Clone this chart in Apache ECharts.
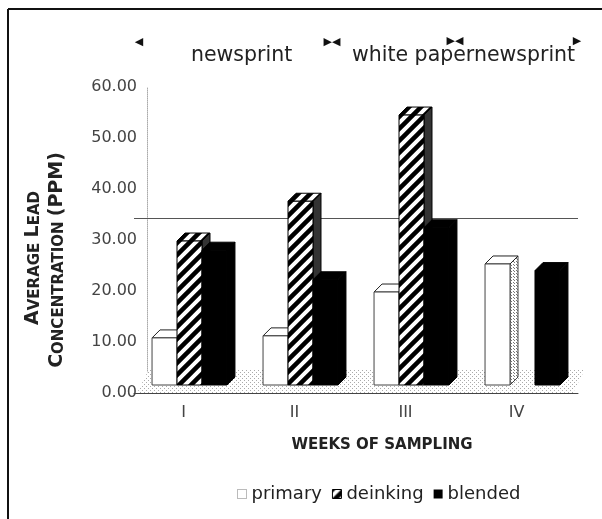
<!DOCTYPE html>
<html>
<head>
<meta charset="utf-8">
<script src="https://cdn.jsdelivr.net/npm/echarts@6/dist/echarts.min.js"></script>
<style>
html,body{margin:0;padding:0;background:#fff;}
#chart{width:602px;height:519px;}
</style>
</head>
<body>
<div id="chart"></div>
<script>
// ---- data ----
const categories = ['I', 'II', 'III', 'IV'];
const primary  = [10.8, 11.2, 19.8, 25.3];
const deinking = [29.8, 37.6, 54.5, null];
const blended  = [28.0, 22.2, 32.4, 24.0];
const seriesNames = ['primary', 'deinking', 'blended'];
const yMin = 0, yMax = 60, yInterval = 10;
const limitValue = 34.3;
const topLabels = ['newsprint', 'white paper', 'newsprint'];
const xTitle = 'WEEKS OF SAMPLING';

// ---- styling helpers ----
const FONT = '"DejaVu Sans", sans-serif';

function stripePattern() {
  const s = 12;
  const c = document.createElement('canvas');
  c.width = s; c.height = s;
  const g = c.getContext('2d');
  g.fillStyle = '#fff'; g.fillRect(0, 0, s, s);
  g.strokeStyle = '#000'; g.lineWidth = 4.5;
  g.beginPath();
  g.moveTo(-3, s + 3); g.lineTo(s + 3, -3);
  g.moveTo(-3, 3); g.lineTo(3, -3);
  g.moveTo(s - 3, s + 3); g.lineTo(s + 3, s - 3);
  g.stroke();
  return { image: c, repeat: 'repeat' };
}
function dotPattern(bg, dot, n) {
  const c = document.createElement('canvas');
  c.width = n; c.height = n;
  const g = c.getContext('2d');
  g.fillStyle = bg; g.fillRect(0, 0, n, n);
  g.fillStyle = dot;
  g.fillRect(0, 0, 1, 1);
  g.fillRect(Math.floor(n / 2), Math.floor(n / 2), 1, 1);
  return { image: c, repeat: 'repeat' };
}
const STRIPES = stripePattern();
const SIDE_DOTS = dotPattern('#fff', '#777', 3);
const FLOOR_DOTS = dotPattern('#fff', '#aaa', 4);

const styles = [
  { front: '#fff', top: '#fff', side: SIDE_DOTS, stroke: '#444', topStroke: '#222' },
  { front: STRIPES, top: STRIPES, side: '#333', stroke: '#000', topStroke: '#000' },
  { front: '#000', top: '#000', side: '#000', stroke: '#000', topStroke: '#000' }
];

const BAR_FRAC = 0.225;
const DX = 8, DY = 8, LIFT = 8;

function makeRender(idx) {
  return function (params, api) {
    const v = api.value(1);
    if (v === null || v === undefined || isNaN(v)) return;
    const cat = api.value(0);
    const top = api.coord([cat, v]);
    const base = api.coord([cat, 0]);
    const band = api.size([1, 0])[0];
    const w = band * BAR_FRAC;
    const x0 = top[0] + (idx - 1.5) * w;
    const yT = top[1];
    const yB = base[1] - LIFT;
    const st = styles[idx];
    return {
      type: 'group',
      children: [
        { type: 'polygon', shape: { points: [[x0 + w, yT], [x0 + w + DX, yT - DY], [x0 + w + DX, yB - DY], [x0 + w, yB]] },
          style: { fill: st.side, stroke: st.stroke, lineWidth: 1 } },
        { type: 'polygon', shape: { points: [[x0, yT], [x0 + DX, yT - DY], [x0 + w + DX, yT - DY], [x0 + w, yT]] },
          style: { fill: st.top, stroke: st.topStroke, lineWidth: 1 } },
        { type: 'rect', shape: { x: x0, y: yT, width: w, height: yB - yT },
          style: { fill: st.front, stroke: st.stroke, lineWidth: 1 } }
      ]
    };
  };
}

function floorRender(params, api) {
  const cs = params.coordSys;
  const yF = cs.y + cs.height;
  const xL = cs.x + 3, xR = cs.x + cs.width - 5;
  return {
    type: 'polygon',
    shape: { points: [[xL, yF], [xR, yF], [xR + 12, yF - 24], [xL + 12, yF - 24]] },
    style: { fill: FLOOR_DOTS, stroke: null }
  };
}

const dataSets = [primary, deinking, blended];
const barSeries = dataSets.map((arr, i) => ({
  name: seriesNames[i],
  type: 'custom',
  z: 3,
  renderItem: makeRender(i),
  itemStyle: { color: i === 0 ? '#fff' : (i === 1 ? STRIPES : '#000') },
  encode: { x: 0, y: 1 },
  data: arr.map((v, k) => [k, v])
}));

const legendData = [
  { name: 'primary', itemStyle: { color: '#fff', borderColor: '#777', borderWidth: 1, borderType: 'dotted' } },
  { name: 'deinking', itemStyle: { color: STRIPES, borderColor: '#000', borderWidth: 1 } },
  { name: 'blended', itemStyle: { color: '#000' } }
];

const tri = (x, y, t) => ({ type: 'text', x: x, y: y,
  style: { text: t, font: '11px ' + FONT, fill: '#111', align: 'center', verticalAlign: 'middle' } });

const chart = echarts.init(document.getElementById('chart'), null, { renderer: 'canvas' });
chart.setOption({
  animation: false,
  backgroundColor: '#fff',
  grid: { left: 134, right: 24, top: 87, bottom: 126 },
  xAxis: {
    type: 'category',
    data: categories,
    axisLine: { lineStyle: { color: '#444', width: 1 } },
    axisTick: { show: false },
    axisLabel: { color: '#444', fontSize: 16, fontFamily: FONT, margin: 12, padding: [0, 12, 0, 0] },
    name: xTitle,
    nameLocation: 'middle',
    nameGap: 45,
    nameTextStyle: { color: '#222', fontSize: 15, fontWeight: 'bold', fontFamily: FONT, padding: [0, 0, 0, 52] }
  },
  yAxis: {
    type: 'value',
    min: yMin, max: yMax, interval: yInterval,
    offset: -13,
    axisLine: { show: true, lineStyle: { color: '#aaa', type: 'dotted', width: 1 } },
    axisTick: { show: false },
    splitLine: { show: false },
    axisLabel: { color: '#444', fontSize: 16, fontFamily: FONT, margin: 10, formatter: v => v.toFixed(2) }
  },
  legend: {
    data: legendData,
    left: 232, top: 480,
    itemWidth: 9, itemHeight: 9, itemGap: 10,
    icon: 'rect',
    selectedMode: false,
    textStyle: { color: '#222', fontSize: 18, fontFamily: FONT }
  },
  series: [
    {
      name: 'floor', type: 'custom', z: 1, silent: true,
      renderItem: floorRender, data: [[0, 0]],
      markLine: {
        silent: true, z: 2, symbol: 'none',
        label: { show: false },
        lineStyle: { color: '#555', type: 'solid', width: 1 },
        data: [{ yAxis: limitValue }]
      }
    }
  ].concat(barSeries),
  graphic: [
    { type: 'line', shape: { x1: 8, y1: 9, x2: 602, y2: 9 }, style: { stroke: '#111', lineWidth: 2 } },
    { type: 'line', shape: { x1: 8, y1: 9, x2: 8, y2: 519 }, style: { stroke: '#111', lineWidth: 2 } },
    tri(139, 42, '◀'),
    tri(332, 42, '▶◀'),
    tri(455, 41, '▶◀'),
    tri(577, 41, '▶'),
    { type: 'text', x: 191, y: 56, style: { text: topLabels[0], font: '20.5px ' + FONT, fill: '#222', align: 'left', verticalAlign: 'middle' } },
    { type: 'text', x: 352, y: 56, style: { text: topLabels[1] + topLabels[2], font: '20.5px ' + FONT, fill: '#222', align: 'left', verticalAlign: 'middle' } },
    { type: 'text', x: 33, y: 258, rotation: Math.PI / 2,
      style: { text: '{b|A}{s|VERAGE }{b|L}{s|EAD}', align: 'center', verticalAlign: 'middle', fill: '#222',
        rich: { b: { fontSize: 19, fontWeight: 'bold', fontFamily: FONT, lineHeight: 19, verticalAlign: 'bottom' },
                s: { fontSize: 15, fontWeight: 'bold', fontFamily: FONT, lineHeight: 19, verticalAlign: 'bottom' } } } },
    { type: 'text', x: 57, y: 260, rotation: Math.PI / 2,
      style: { text: '{b|C}{s|ONCENTRATION }{b|(PPM)}', align: 'center', verticalAlign: 'middle', fill: '#222',
        rich: { b: { fontSize: 19, fontWeight: 'bold', fontFamily: FONT, lineHeight: 19, verticalAlign: 'bottom' },
                s: { fontSize: 15, fontWeight: 'bold', fontFamily: FONT, lineHeight: 19, verticalAlign: 'bottom' } } } }
  ]
});
</script>
</body>
</html>
